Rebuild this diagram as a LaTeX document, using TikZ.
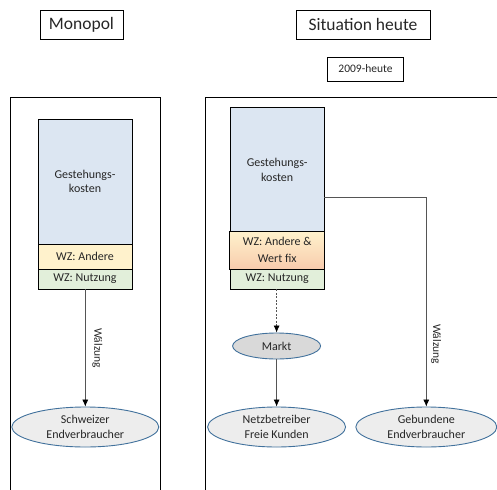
\documentclass[tikz,border=0pt]{standalone}
\usepackage{fontspec}
\setmainfont{Carlito}
\usetikzlibrary{arrows.meta,shapes.geometric}
\definecolor{txt}{HTML}{262626}
\definecolor{gkblue}{HTML}{DCE6F2}
\definecolor{wzyellow}{HTML}{FFF2CC}
\definecolor{wzsalmon}{HTML}{F8CBAD}
\definecolor{wzgreen}{HTML}{E2EFDA}
\definecolor{ellborder}{HTML}{41719C}
\definecolor{ellfill}{HTML}{EDEDED}
\definecolor{marktfill}{HTML}{D9D9D9}
\definecolor{conn}{HTML}{555555}
\tikzset{
  x=1pt, y=-1pt,
  every node/.style={text=txt, inner sep=0pt, align=center},
  titlebox/.style={draw=black, line width=0.8pt, font=\fontsize{17.5}{20}\selectfont},
  datebox/.style={draw=black, line width=0.6pt, font=\fontsize{11.5}{13}\selectfont},
  panel/.style={draw=black, line width=0.9pt},
  stackbox/.style={draw=black, line width=0.8pt, minimum width=94pt, font=\fontsize{12}{14.5}\selectfont},
  consumer/.style={ellipse, draw=ellborder, line width=0.9pt, fill=ellfill, font=\fontsize{12}{14.5}\selectfont},
  flow/.style={draw=conn, line width=0.7pt, -{Latex[length=7pt,width=6pt,color=black]}},
  lbl/.style={font=\fontsize{11.5}{13}\selectfont, rotate=-90}
}
\begin{document}
\begin{tikzpicture}
\useasboundingbox (0,0) rectangle (497,489);
% titles
\node[titlebox, minimum width=83pt, minimum height=29pt] (mono) at (81.5,24.5) {Monopol};
\node[titlebox, minimum width=134pt, minimum height=29pt] (sit) at (363,24.5) {Situation heute};
\node[datebox, minimum width=75.5pt, minimum height=24pt] (date) at (365.5,69) {2009-heute};
% panels
\draw[panel] (10,492) -- (10,97) -- (160.5,97) -- (160.5,492);
\draw[panel] (205,492) -- (205,97) -- (500,97);
% left stack
\node[stackbox, fill=gkblue, minimum height=125pt] (gkL) at (85,181.5) {Gestehungs-\\kosten};
\node[stackbox, fill=wzyellow, minimum height=25pt] (andL) at (85,256.5) {WZ: Andere};
\node[stackbox, fill=wzgreen, minimum height=20pt] (nutL) at (85,279) {WZ: Nutzung};
% right stack
\node[stackbox, fill=gkblue, minimum width=94.3pt, minimum height=124pt] (gkR) at (277.2,169.7) {Gestehungs-\\kosten};
\node[stackbox, minimum width=94.3pt, minimum height=37.3pt] (andR) at (277.2,250.3) {};
\shade[top color=wzyellow, middle color=wzyellow!60!wzsalmon, bottom color=wzsalmon] (andR.north west) rectangle (andR.south east);
\draw[black, line width=0.8pt] (andR.north west) rectangle (andR.south east);
\node[font=\fontsize{12}{17}\selectfont] at (andR.center) {WZ: Andere \&\\Wert fix};
\node[stackbox, fill=wzgreen, minimum width=94.3pt, minimum height=20pt] (nutR) at (277.2,279) {WZ: Nutzung};
% consumers
\node[consumer, minimum width=147pt, minimum height=40pt] (schw) at (85.3,427) {Schweizer\\Endverbraucher};
\node[consumer, fill=marktfill, minimum width=88pt, minimum height=26pt] (markt) at (276.6,346) {Markt};
\node[consumer, minimum width=138pt, minimum height=40pt] (netz) at (276.6,427) {Netzbetreiber\\Freie Kunden};
\node[consumer, minimum width=141pt, minimum height=40pt] (geb) at (426.3,427) {Gebundene\\Endverbraucher};
% connectors
\draw[flow] (nutL.south -| schw.north) -- (schw.north);
\node[lbl] (w1) at (97.5,348) {Wälzung};
\draw[flow, dashed, dash pattern=on 2pt off 1.5pt] (nutR.south -| markt.north) -- (markt.north);
\draw[flow] (markt.south) -- (netz.north);
\coordinate (gkRout) at (324.3,197.7);
\draw[flow] (gkRout) -| (geb.north);
\node[lbl] (w2) at (436,344) {Wälzung};
\end{tikzpicture}
\end{document}
